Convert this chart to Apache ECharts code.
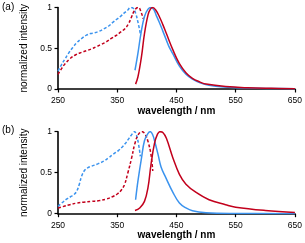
<!DOCTYPE html>
<html><head><meta charset="utf-8">
<script src="https://cdn.jsdelivr.net/npm/echarts@6/dist/echarts.min.js"></script>
<style>html,body{margin:0;padding:0;background:#fff}#c{width:305px;height:243px}</style>
</head><body><div id="c"></div><script>
// ---- data ----
const panelLabels = ['(a)', '(b)'];
const xTitle = 'wavelength / nm';
const yTitle = 'normalized intensity';
const xMin = 250, xMax = 650, xStep = 100;
const yMin = 0, yMax = 1, yStep = 0.5;

// panel (a)
const aAbsBlueNm = [250, 256, 262, 268, 275, 282, 290, 298, 305, 312, 320, 328, 335, 343, 350, 357, 363, 368, 372, 377, 381, 385, 389];
const aAbsBlueI  = [0.22, 0.30, 0.37, 0.44, 0.51, 0.57, 0.62, 0.66, 0.68, 0.69, 0.71, 0.74, 0.77, 0.82, 0.86, 0.90, 0.94, 0.97, 1.0, 0.99, 0.93, 0.82, 0.68];
const aAbsRedNm  = [250, 256, 262, 270, 280, 290, 298, 306, 315, 324, 332, 340, 349, 356, 363, 369, 374, 378, 382, 386, 390, 394];
const aAbsRedI   = [0.18, 0.25, 0.31, 0.37, 0.42, 0.45, 0.47, 0.49, 0.52, 0.55, 0.58, 0.62, 0.66, 0.70, 0.74, 0.80, 0.88, 0.95, 0.99, 1.0, 0.95, 0.86];
const aEmBlueNm  = [380, 385, 390, 396, 402, 407, 412, 416, 421, 427, 433, 438, 444, 455, 466, 477, 490, 505, 530, 570, 610, 650];
const aEmBlueI   = [0.23, 0.44, 0.68, 0.89, 0.98, 1.0, 0.97, 0.90, 0.82, 0.71, 0.60, 0.51, 0.43, 0.28, 0.18, 0.12, 0.075, 0.045, 0.025, 0.012, 0.006, 0.003];
const aEmRedNm   = [381, 385, 391, 396, 402, 406, 410, 415, 421, 427, 433, 444, 455, 466, 477, 490, 500, 533, 570, 610, 650];
const aEmRedI    = [0.06, 0.15, 0.40, 0.68, 0.91, 0.98, 1.0, 0.97, 0.89, 0.79, 0.68, 0.48, 0.31, 0.20, 0.13, 0.085, 0.06, 0.03, 0.015, 0.008, 0.004];

// panel (b)
const bAbsBlueNm = [250, 258, 265, 272, 278, 282, 286, 290, 295, 300, 307, 318, 327, 335, 344, 352, 358, 364, 369, 373, 379, 384, 389];
const bAbsBlueI  = [0.09, 0.14, 0.18, 0.21, 0.24, 0.28, 0.36, 0.46, 0.53, 0.56, 0.58, 0.61, 0.64, 0.68, 0.73, 0.77, 0.81, 0.86, 0.91, 0.95, 1.0, 0.92, 0.70];
const bAbsRedNm  = [250, 260, 270, 282, 293, 307, 320, 332, 343, 350, 356, 362, 368, 374, 380, 386, 392, 397, 402, 407, 410];
const bAbsRedI   = [0.07, 0.09, 0.11, 0.13, 0.14, 0.15, 0.16, 0.18, 0.21, 0.24, 0.28, 0.35, 0.50, 0.67, 0.86, 0.97, 1.0, 0.97, 0.88, 0.72, 0.52];
const bEmBlueNm  = [381, 385, 391, 396, 402, 406, 410, 413, 419, 424, 432, 444, 455, 466, 477, 500, 550, 650];
const bEmBlueI   = [0.17, 0.40, 0.68, 0.89, 0.98, 1.0, 0.96, 0.89, 0.72, 0.57, 0.44, 0.26, 0.13, 0.07, 0.035, 0.012, 0.003, 0.0];
const bEmRedNm   = [380, 388, 396, 402, 407, 413, 418, 422, 427, 433, 444, 455, 466, 483, 505, 533, 550, 600, 650];
const bEmRedI    = [0.04, 0.07, 0.15, 0.32, 0.60, 0.86, 0.97, 1.0, 0.99, 0.92, 0.68, 0.48, 0.36, 0.26, 0.17, 0.11, 0.08, 0.04, 0.015];

// ---- styles ----
const BLUE = '#3b93ee', RED = '#c2001c';
const FONT = 'Liberation Sans';
const zip = (xs, ys) => xs.map((x, i) => [x, ys[i]]);

function line(idx, xs, ys, color, dashed) {
  return {
    type: 'line', xAxisIndex: idx, yAxisIndex: idx, data: zip(xs, ys),
    symbol: 'none', smooth: 0.4, silent: true, animation: false,
    lineStyle: { color: color, width: 1.5, type: dashed ? [3, 2] : 'solid' }
  };
}
const grids = [
  { left: 58, right: 9, top: 7.5, height: 81.5 },
  { left: 58, right: 9, top: 131.7, height: 82 }
];
function xAx(i) {
  return {
    type: 'value', gridIndex: i, min: xMin, max: xMax, interval: xStep,
    name: xTitle, nameLocation: 'middle', nameGap: 17,
    nameTextStyle: { fontFamily: FONT, fontSize: 10, color: '#000', fontWeight: 'bold' },
    axisLine: { show: true, lineStyle: { color: '#000', width: 1.6 } },
    axisTick: { show: true, length: 3.5, lineStyle: { color: '#000', width: 1.2 } },
    axisLabel: { fontFamily: FONT, fontSize: 8.5, color: '#000', margin: 7 },
    splitLine: { show: false }
  };
}
function yAx(i) {
  return {
    type: 'value', gridIndex: i, min: yMin, max: yMax, interval: yStep,
    name: yTitle, nameLocation: 'middle', nameRotate: 90, nameGap: 20,
    nameTextStyle: { fontFamily: FONT, fontSize: 10, color: '#000' },
    axisLine: { show: true, lineStyle: { color: '#000', width: 1.6 } },
    axisTick: { show: true, length: 3.5, lineStyle: { color: '#000', width: 1.2 } },
    axisLabel: { fontFamily: FONT, fontSize: 8.5, color: '#000', margin: 6 },
    splitLine: { show: false }
  };
}
const chart = echarts.init(document.getElementById('c'), null, { renderer: 'canvas' });
chart.setOption({
  animation: false,
  backgroundColor: '#fff',
  title: [
    { text: panelLabels[0], left: 2, top: 2, padding: 0, textStyle: { fontFamily: FONT, fontSize: 10, fontWeight: 'normal', color: '#000' } },
    { text: panelLabels[1], left: 2, top: 125, padding: 0, textStyle: { fontFamily: FONT, fontSize: 10, fontWeight: 'normal', color: '#000' } }
  ],
  grid: grids,
  xAxis: [xAx(0), xAx(1)],
  yAxis: [yAx(0), yAx(1)],
  series: [
    line(0, aAbsBlueNm, aAbsBlueI, BLUE, true),
    line(0, aAbsRedNm, aAbsRedI, RED, true),
    line(0, aEmBlueNm, aEmBlueI, BLUE, false),
    line(0, aEmRedNm, aEmRedI, RED, false),
    line(1, bAbsBlueNm, bAbsBlueI, BLUE, true),
    line(1, bAbsRedNm, bAbsRedI, RED, true),
    line(1, bEmBlueNm, bEmBlueI, BLUE, false),
    line(1, bEmRedNm, bEmRedI, RED, false)
  ]
});
</script></body></html>
